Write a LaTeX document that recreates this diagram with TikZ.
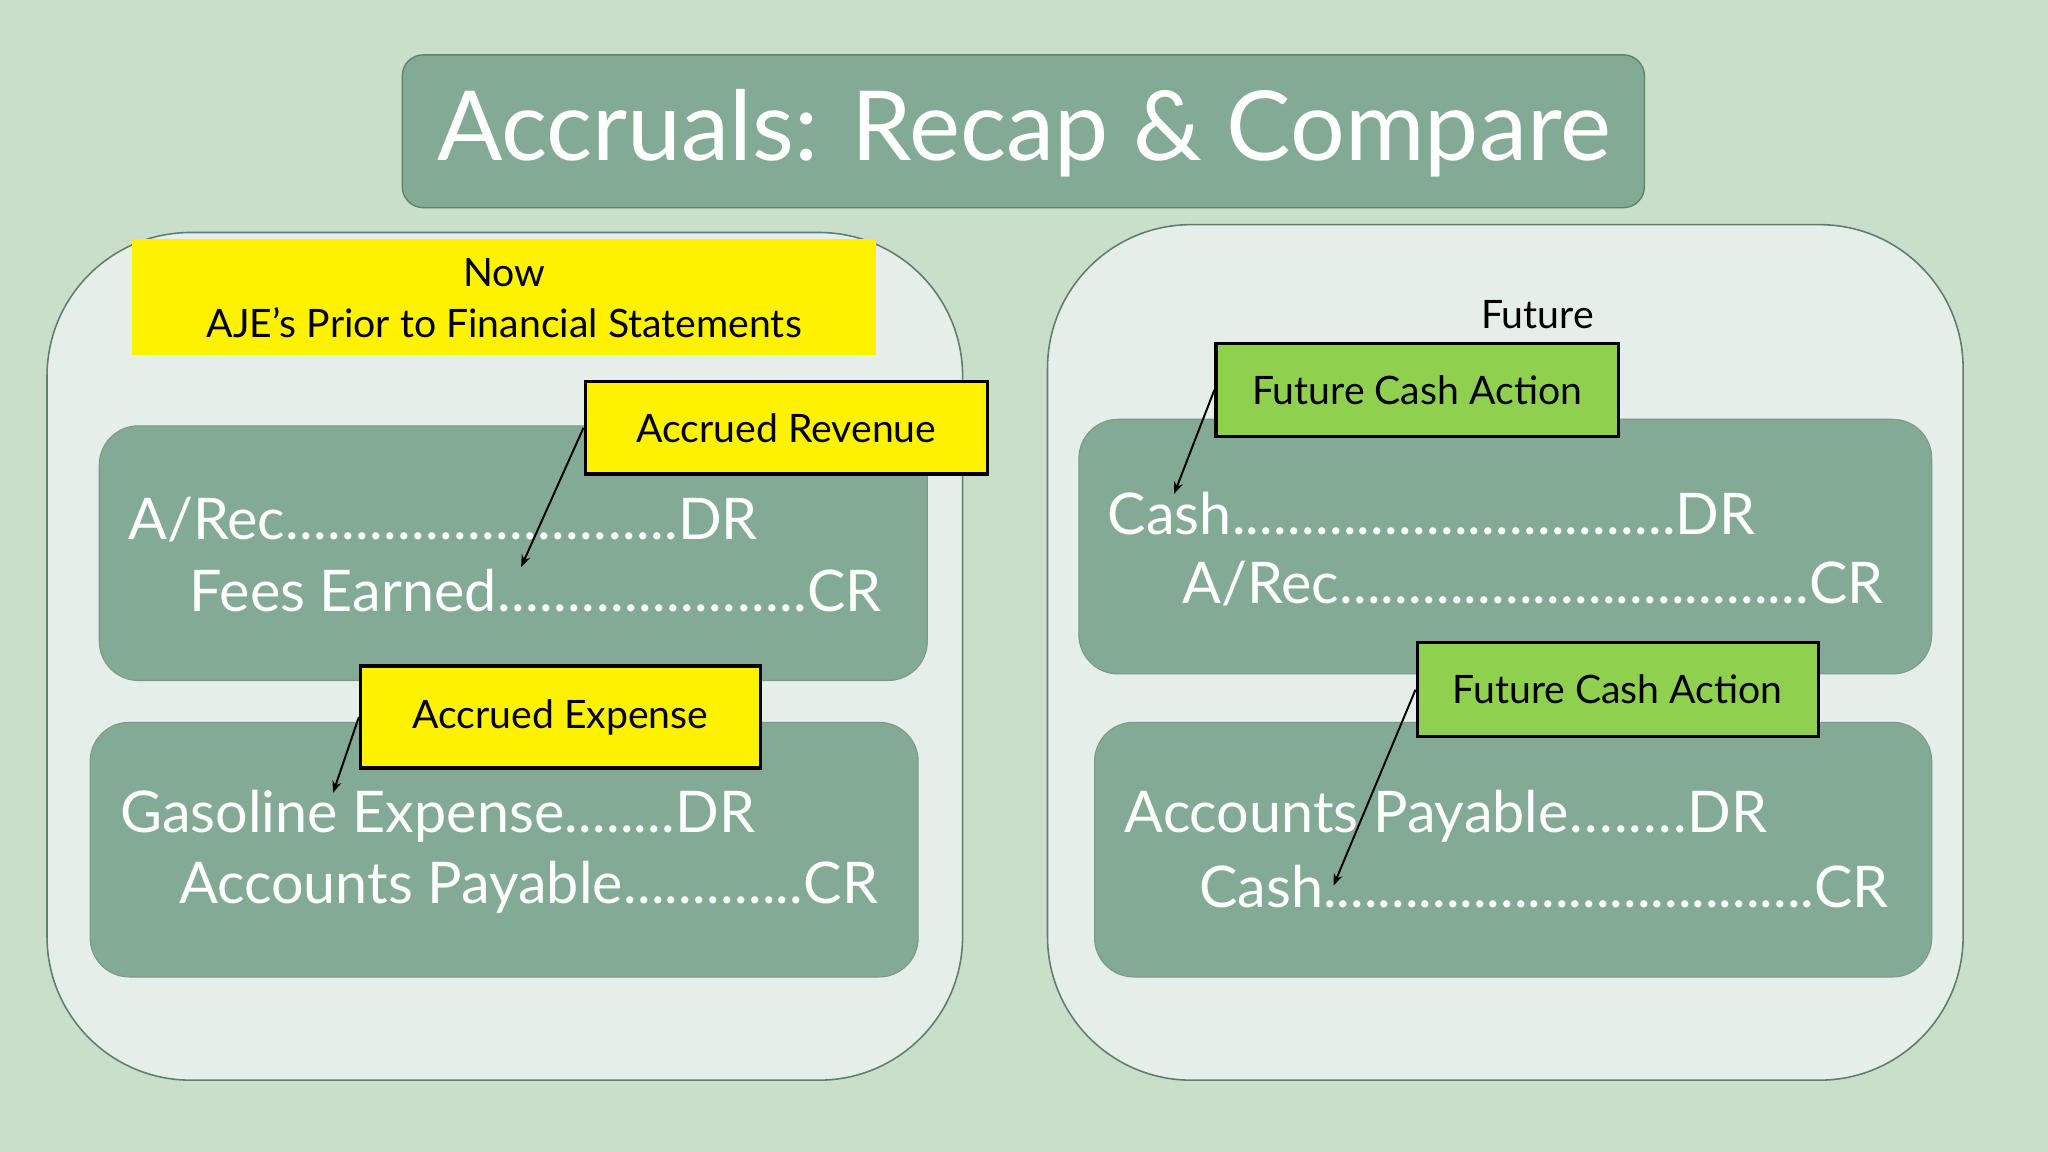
\documentclass[tikz,border=0pt]{standalone}
\usepackage{fontspec}
\setmainfont{Lato}
\usetikzlibrary{arrows.meta}
\definecolor{bg}{HTML}{C9DFCA}
\definecolor{panel}{HTML}{E6EEE9}
\definecolor{pborder}{HTML}{5E7F6C}
\definecolor{boxg}{HTML}{82AA94}
\definecolor{lime}{HTML}{8FD14F}
\newcommand{\dts}{\xleaders\hbox{.}\hfill}
\newcommand{\entryline}[2]{\makebox[#1][l]{#2}}
\tikzset{
 panelbox/.style={draw=pborder,line width=1.2pt,fill=panel,rounded corners=110pt},
 entrybox/.style={draw=pborder!80,line width=0.8pt,fill=boxg,rounded corners=30pt},
 entry/.style={anchor=west,inner sep=0,text=white,font=\fontsize{44}{50}\selectfont},
 tag/.style={draw=black,line width=2.5pt,inner sep=0,font=\fontsize{30}{36}\selectfont},
 arr/.style={-{Stealth[length=9pt,width=7pt]},line width=1.5pt}
}
\begin{document}
\begin{tikzpicture}[x=1pt,y=-1pt]
\fill[bg] (0,0) rectangle (1568,882);
\draw[fill=boxg,draw=pborder,line width=1pt,rounded corners=16pt] (308,42) rectangle (1259,159);
\node[text=white,font=\fontsize{74}{80}\selectfont] (title) at (784,102) {Accruals: Recap \& Compare};
% left
\draw[panelbox] (36,178) rectangle (737,827);
\fill[yellow] (101,183) rectangle (671,272);
\node[align=center,font=\fontsize{30}{39}\selectfont] (now) at (386,228) {Now\\AJE’s Prior to Financial Statements};
\draw[entrybox] (76,326) rectangle (710,521);
\node[entry] (l1a) at (98,398) {\entryline{482pt}{A/Rec\dts DR}};
\node[entry] (l1b) at (145,452) {\entryline{530pt}{Fees Earned\dts CR}};
\draw[entrybox] (69,553) rectangle (703,748);
\node[entry] (l2a) at (92,625) {\entryline{486pt}{Gasoline Expense\dts DR}};
\node[entry] (l2b) at (137,679) {\entryline{535pt}{Accounts Payable\dts CR}};
\node[tag,fill=yellow,minimum width=308pt,minimum height=71pt] (ar) at (602,327.5) {Accrued Revenue};
\node[tag,fill=yellow,minimum width=306pt,minimum height=78pt] (ae) at (429,549) {Accrued Expense};
\coordinate (arT) at (399,434);
\coordinate (aeT) at (255,607);
\draw[arr] (ar.west) -- (arT);
\draw[arr] (ae.west) -- (aeT);
% right
\draw[panelbox] (802,172) rectangle (1503,827);
\node[font=\fontsize{30}{36}\selectfont] (fut) at (1177,241) {Future};
\draw[entrybox] (826,321) rectangle (1479,516);
\node[entry] (r1a) at (848,393) {\entryline{496pt}{Cash\dts DR}};
\node[entry] (r1b) at (905,447) {\entryline{537pt}{A/Rec\dts CR}};
\draw[entrybox] (838,553) rectangle (1479,748);
\node[entry] (r2a) at (861,625) {\entryline{492pt}{Accounts Payable\dts DR}};
\node[entry] (r2b) at (918,679) {\entryline{528pt}{Cash\dts CR}};
\node[tag,fill=lime,minimum width=308pt,minimum height=71pt] (f1) at (1085,298.5) {Future Cash Action};
\node[tag,fill=lime,minimum width=307pt,minimum height=72pt] (f2) at (1238.5,528) {Future Cash Action};
\coordinate (f1T) at (899,378);
\coordinate (f2T) at (1021,678);
\draw[arr] (f1.west) -- (f1T);
\draw[arr] (f2.west) -- (f2T);
\end{tikzpicture}
\end{document}
